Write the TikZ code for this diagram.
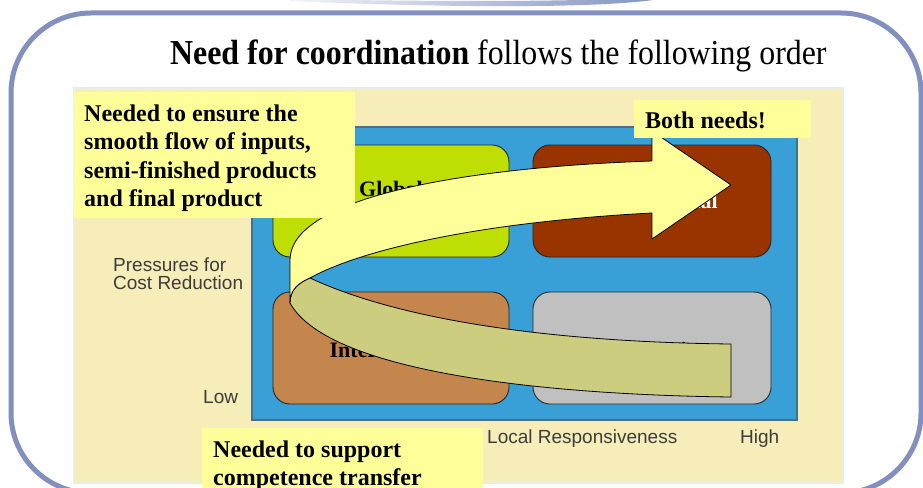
\documentclass[tikz,border=0pt]{standalone}
\usepackage{fontspec}
\setmainfont{Liberation Serif}
\newfontfamily\axisfont{Liberation Sans}

\definecolor{frameblue}{RGB}{129,144,190}
\definecolor{panelbeige}{RGB}{247,237,185}
\definecolor{paneledge}{RGB}{226,240,234}
\definecolor{fieldblue}{RGB}{56,159,215}
\definecolor{fieldedge}{RGB}{80,110,130}
\definecolor{globalgreen}{RGB}{190,222,4}
\definecolor{transred}{RGB}{153,51,0}
\definecolor{intlbrown}{RGB}{196,134,76}
\definecolor{localgray}{RGB}{192,192,192}
\definecolor{noteyellow}{RGB}{255,255,153}
\definecolor{foldolive}{RGB}{205,205,128}
\definecolor{axisgray}{RGB}{60,60,60}

\tikzset{
  quadrant/.style={draw=black!85, line width=0.9pt, rounded corners=17pt, inner sep=0pt},
  quadlabel/.style={anchor=base, inner sep=0pt, font=\fontsize{22}{24}\selectfont\bfseries},
  axislabel/.style={anchor=base west, inner sep=0pt, text=axisgray, font=\axisfont\fontsize{19}{19}\selectfont},
  notebox/.style={fill=noteyellow},
  notetext/.style={anchor=base west, inner sep=0pt},
  bandedge/.style={draw=black, line width=0.8pt, line join=round},
}

\begin{document}
\begin{tikzpicture}[x=1pt, y=-1pt]
  \useasboundingbox (0,0) rectangle (923,487);
  \fill[white] (0,0) rectangle (923,487);

  % title tab peeking in at the top
  \shade[left color=white!90!frameblue, middle color=white!35!frameblue, right color=frameblue]
    (290,1) .. controls (450,8) and (620,9) .. (670,-3)
    -- (664,-4) .. controls (600,2) and (450,2) .. (290,-1) -- cycle;

  % slide frame
  \draw[frameblue, line width=5pt, rounded corners=80pt] (11,13) rectangle (921,493);

  % chart panel and field
  \filldraw[fill=panelbeige, draw=paneledge, line width=1.5pt] (74,88) rectangle (843,483);
  \filldraw[fill=fieldblue, draw=fieldedge, line width=1.2pt] (252,127) rectangle (797,420);

  % the four quadrants
  \node[quadrant, fill=globalgreen, minimum width=236pt, minimum height=112pt] (gs) at (391,201) {};
  \node[quadrant, fill=transred,    minimum width=238pt, minimum height=112pt] (tn) at (652,201) {};
  \node[quadrant, fill=intlbrown,   minimum width=236pt, minimum height=112pt] (in) at (391,348) {};
  \node[quadrant, fill=localgray,   minimum width=238pt, minimum height=112pt] (lo) at (652,348) {};

  \node[quadlabel] (gslabel) at (391,196) {Global};
  \node[quadlabel, text=white] (tnlabel) at (652,208) {Transnational};
  \node[quadlabel] (inlabel) at (392,357) {International};
  \node[quadlabel] (lolabel) at (652,357) {Localization};

  % axis labels
  \node[axislabel] (pres1) at (113,271) {Pressures for};
  \node[axislabel] (pres2) at (113,289) {Cost Reduction};
  \node[axislabel] (lowv)  at (203,403) {Low};
  \node[axislabel] (locr)  at (487,443) {Local Responsiveness};
  \node[axislabel] (highh) at (740,443) {High};

  % curved arrow: back side of the band
  \filldraw[bandedge, fill=foldolive]
    (310,278) .. controls (400,320) and (550,342) .. (731,344)
    -- (731,397) .. controls (560,395) and (330,375) .. (290,303)
    .. controls (290,290) and (298,283) .. (310,278) -- cycle;

  % curved arrow: front side with head
  \filldraw[bandedge, fill=noteyellow]
    (731,185) -- (652,131) -- (652,161)
    .. controls (450,168) and (290,200) .. (290,260)
    -- (290,303)
    .. controls (290,290) and (298,283) .. (310,278)
    .. controls (360,250) and (480,222) .. (652,213)
    -- (652,239) -- cycle;

  % call-outs
  \fill[notebox] (74,92) rectangle (355,218);
  \node[notetext] (flow) at (84,121) {\parbox[t]{265pt}{\fontsize{24}{28.5}\selectfont\bfseries\raggedright
    Needed to ensure the\\ smooth flow of inputs,\\ semi-finished products\\ and final product}};

  \fill[notebox] (634,100) rectangle (811,138);
  \node[notetext, font=\fontsize{24}{28.5}\selectfont\bfseries] (both) at (645,128) {Both needs!};

  \fill[notebox] (202,428) rectangle (483,492);
  \node[notetext] (comp) at (213,457) {\parbox[t]{265pt}{\fontsize{24}{28}\selectfont\bfseries\raggedright
    Needed to support\\ competence transfer}};

  % heading
  \node[notetext] (title) at (170,65) {\scalebox{0.91}[1]{\fontsize{35}{40}\selectfont\textbf{Need for coordination} follows the following order}};
\end{tikzpicture}
\end{document}
